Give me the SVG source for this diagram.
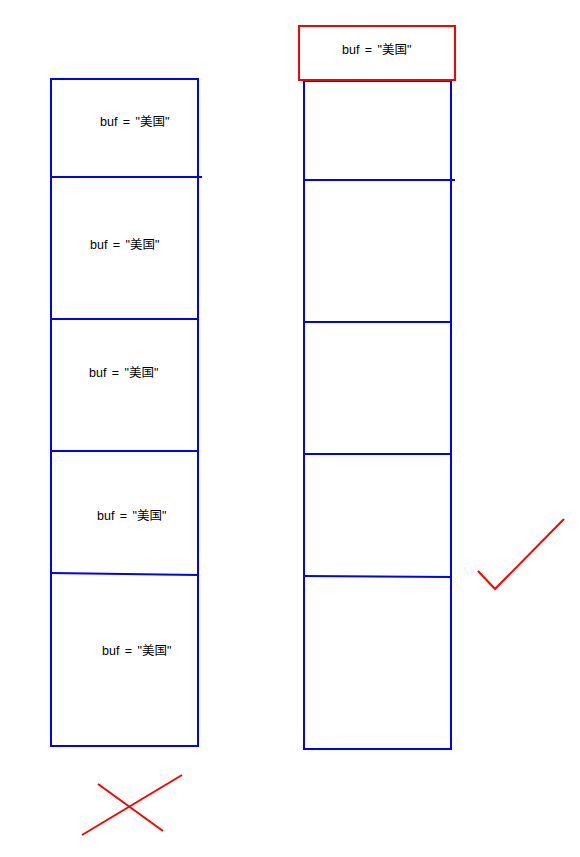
<svg xmlns="http://www.w3.org/2000/svg" width="580" height="857" viewBox="0 0 580 857">
<style>
.blue{fill:none;stroke:#0000ff;stroke-width:2}
.red{fill:none;stroke:#ff0000;stroke-width:2}
.t{font-family:"Liberation Sans","Noto Sans CJK SC",sans-serif;font-size:12.5px;word-spacing:2px;fill:#000}
</style>
<rect width="580" height="857" fill="#fff"/>
<g id="left-stack">
<rect class="blue" x="51" y="79" width="147" height="667"/>
<line class="blue" x1="51" y1="177" x2="202" y2="177"/>
<line class="blue" x1="51" y1="319" x2="197" y2="319"/>
<line class="blue" x1="51" y1="451" x2="198" y2="451"/>
<line class="blue" x1="51" y1="573" x2="198" y2="575"/>
<text class="t" x="100" y="126">buf = "美国"</text>
<text class="t" x="90" y="249">buf = "美国"</text>
<text class="t" x="89" y="377">buf = "美国"</text>
<text class="t" x="97" y="520">buf = "美国"</text>
<text class="t" x="102" y="655">buf = "美国"</text>
</g>
<g id="right-stack">
<rect class="blue" x="304" y="81" width="147" height="668"/>
<line class="blue" x1="304" y1="180" x2="455" y2="180"/>
<line class="blue" x1="304" y1="322" x2="451" y2="322"/>
<line class="blue" x1="304" y1="454" x2="451" y2="454"/>
<line class="blue" x1="304" y1="576" x2="451" y2="577"/>
</g>
<g id="red-box">
<rect class="red" x="299" y="26" width="156" height="54"/>
<text class="t" x="342" y="54">buf = "美国"</text>
</g>
<g id="marks">
<polyline class="red" points="478,571 495,589 564,519"/>
<line class="red" x1="98" y1="784" x2="163" y2="831"/>
<line class="red" x1="82" y1="835" x2="182" y2="775"/>
</g>
</svg>
